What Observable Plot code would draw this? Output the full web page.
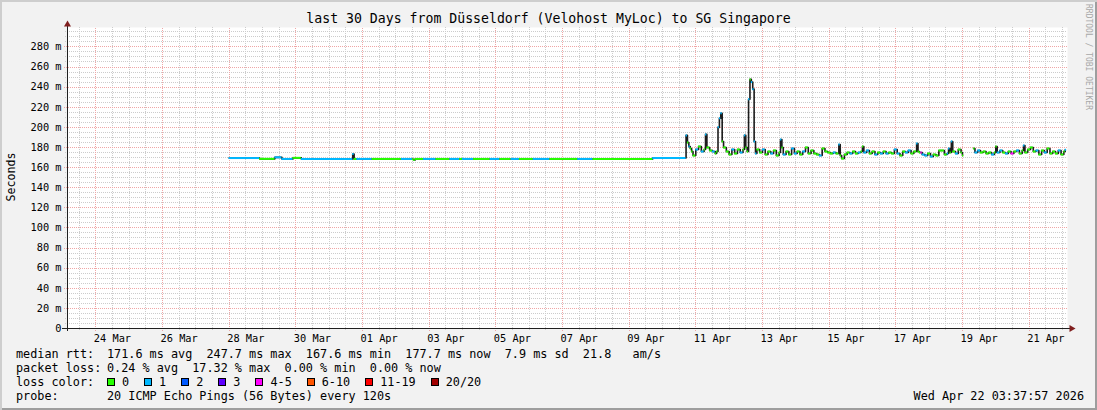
<!DOCTYPE html>
<html><head><meta charset="utf-8">
<script src="https://cdn.jsdelivr.net/npm/d3@7"></script>
<script src="https://cdn.jsdelivr.net/npm/@observablehq/plot@0.6"></script>
<style>
html,body{margin:0;padding:0;background:#fff}
#wrap{position:relative;width:1097px;height:410px;background:#f2f2f2;overflow:hidden;font-family:"DejaVu Sans Mono",monospace;color:#000;
  box-shadow: inset 2px 2px 0 #cecece, inset -2px -2px 0 #9e9e9e;}
#wrap svg{position:absolute;left:0;top:0}
.abs{position:absolute;white-space:pre}
#title{left:0;width:1097px;top:11px;height:16px;line-height:16px;text-align:center;font-size:13.2px}
#ylab{left:-39.5px;top:170px;width:100px;height:14px;line-height:14px;text-align:center;font-size:11.6px;transform:rotate(-90deg)}
#wm{left:1084px;top:4px;font-size:8px;color:#a8a8a8;writing-mode:vertical-rl;line-height:9px}
.row{position:absolute;left:16px;height:14px;line-height:14px;font-size:11.8px;white-space:pre}
.row .v{position:absolute;left:91px;top:0;white-space:pre}
.lc{position:absolute;left:91px;top:0;display:flex;align-items:center;height:14px}
.lc .it{display:flex;align-items:center;margin-right:15px}
.lc .bx{width:6px;height:6px;border:1px solid #000;margin-right:7px}
#date{position:absolute;right:13px;height:14px;line-height:14px;font-size:11.8px;white-space:pre}
</style></head>
<body><div id="wrap"></div>
<script>
// ---- chart data ----
const titleText = "last 30 Days from Düsseldorf (Velohost MyLoc) to SG Singapore";
const yTicks = [0,20,40,60,80,100,120,140,160,180,200,220,240,260,280];
const xTickLabels = ["24 Mar","26 Mar","28 Mar","30 Mar","01 Apr","03 Apr","05 Apr","07 Apr","09 Apr","11 Apr","13 Apr","15 Apr","17 Apr","19 Apr","21 Apr"];
const lossLabels = ["0","1","2","3","4-5","6-10","11-19","20/20"];
const lossColors = ["#26ff00","#00b8ff","#0059ff","#5e00ff","#ff00ff","#ff5500","#ff0000","#a10000"];
const rttStats = ["171.6 ms avg","247.7 ms max","167.6 ms min","177.7 ms now","7.9 ms sd","21.8   am/s"];
const lossStats = ["0.24 % avg","17.32 % max","0.00 % min","0.00 % now"];
const probeText = "20 ICMP Echo Pings (56 Bytes) every 120s";
const stampText = "Wed Apr 22 03:37:57 2026";

// hours since 2026-03-28 00:00 UTC
const hours = [
  0,22,33,38,46,52,89,90,92,103,
  124,132,133,134,140,149,159,166,168,176,
  188,195,203,209,219,231,251,262,305,
  329,330,331,332,333,334,336,338,340,342,
  343,344,346,348,350,351,352,353,354,355,
  356,358,360,362,364,366,368,370,371,372,
  373,374,375,376,377,378,379,380,382,384,
  386,388,390,392,394,396,397,398,399,401,
  403,405,407,409,411,413,415,417,419,421,
  423,425,427,429,431,433,435,437,439,440,
  441,443,445,447,449,451,453,455,456,457,
  459,461,463,465,467,469,471,473,475,477,
  479,481,483,485,487,489,491,493,495,496,
  497,498,499,501,503,505,507,509,511,513,
  515,517,518,519,520,521,523,525,527,528,
  529,536,537,539,541,543,545,547,549,551,
  552,553,555,557,559,561,563,565,567,569,
  571,572,573,575,577,579,581,583,585,587,
  589,591,593,595,597,599,601,602
];
const lastHour = 603;
// median rtt, ms
const medianMs = [
  169.5,168.7,170.2,168.6,169.7,168.6,173.5,168.6,168.6,168.6,
  168.6,168.3,167.6,168.6,168.6,168.6,168.6,168.6,168.6,168.6,
  168.6,168.6,168.6,168.6,168.6,168.6,168.6,168.6,169.5,
  192,185,181,179,176,172,178,181,176,178,
  193,180,177,176,174,176,200,209,214,186,
  180,176,173,178,174,178,175,178,192,180,
  176,228,247.7,245,238,186,174,178,175,178,
  173,176,174,177,172,175,188,180,173,176,
  173,179,174,176,173,176,180,174,177,174,
  173,172,179,176,175,174,175,174,183,172,
  169,173,175,174,176,174,175,176,181,175,
  177,174,176,173,175,174,176,174,175,174,
  178,174,172,176,175,177,174,176,184,176,
  175,175,173,172,174,171,173,172,177,177,
  173,174,179,175,186,176,174,178,175,172,
  null,179,175,177,175,176,174,175,173,175,
  181,175,177,175,174,176,174,176,177,174,
  177,182,175,178,180,176,177,173,177,175,
  179,174,176,174,177,173,176,177.7
];
// loss class (index into lossLabels)
const lossIdx = [
  1,0,1,1,0,1,1,0,1,0,
  1,0,0,0,1,0,1,0,1,0,
  1,0,1,0,1,0,1,0,1,
  1,0,1,0,0,0,1,0,1,0,
  1,0,0,1,0,0,1,1,1,0,
  0,0,0,1,0,0,1,0,1,0,
  0,1,0,1,1,1,1,0,0,1,
  0,0,1,0,0,0,1,0,1,0,
  0,1,1,0,0,1,0,0,0,0,
  0,1,0,0,0,0,1,0,1,0,
  0,0,0,1,0,0,1,0,0,1,
  1,0,0,1,0,1,0,1,0,0,
  1,1,0,0,1,1,0,0,1,0,
  0,4,1,1,0,1,0,0,0,0,
  0,1,1,0,1,0,1,0,0,0,
  0,0,1,1,0,0,0,0,1,0,
  0,1,1,0,1,0,4,0,1,0,
  0,1,0,0,0,0,1,0,0,1,
  0,0,0,0,1,0,0,1
];

// ---- build ----
const H = 3600e3;
const t0 = Date.UTC(2026,2,28);
const xEnd = new Date(Date.UTC(2026,3,22,3,37,57));
const xStart = new Date(+xEnd - 30*24*H);
const pxT = 30*24*H/1000; // time per pixel
const pxY = 1/1.0057;     // ms per pixel
const yTop = 301*pxY;

const data = hours.map((h,i)=>({
  t: new Date(t0 + h*H),
  t2: new Date(t0 + (i+1 < hours.length ? hours[i+1] : lastHour)*H),
  v: medianMs[i],
  c: lossColors[lossIdx[i]]
}));

const parse = d3.utcParse("%d %b %Y %H");
const majorX = xTickLabels.map(l => parse(l + " 2026 00"));
const labelX = xTickLabels.map(l => parse(l + " 2026 12"));
const majorSet = new Set(majorX.map(Number));
const minorX = d3.utcHour.every(12).range(xStart, xEnd).filter(d => !majorSet.has(+d));
const labelMap = new Map(labelX.map((d,i)=>[+d, xTickLabels[i]]));
const minorY = d3.range(5, 300, 5).filter(d => d % 20 !== 0);
const majorY = yTicks.filter(d => d > 0);

const sX = (d, px) => new Date(+d + px*pxT);
const gridGray = "#cccccc", gridRed = "#f0a6a6";
const crisp = {shapeRendering: "crispEdges", strokeDasharray: "1,1"};

const plot = Plot.plot({
  width: 1097, height: 410,
  marginLeft: 67, marginRight: 30, marginTop: 27, marginBottom: 82,
  style: {background: "transparent", fontFamily: "'DejaVu Sans Mono', monospace", fontSize: "10.3px", color: "#000", overflow: "visible"},
  x: {type: "utc", domain: [xStart, xEnd]},
  y: {domain: [0, yTop]},
  color: {type: "identity"},
  marks: [
    Plot.frame({fill: "#fff", stroke: null}),
    Plot.ruleY(minorY, {x1: sX(xStart,-2), x2: xEnd, stroke: gridGray, ...crisp}),
    Plot.ruleX(minorX, {y1: -2*pxY, y2: yTop, stroke: gridGray, ...crisp}),
    Plot.ruleY(majorY, {x1: sX(xStart,-3), x2: xEnd, stroke: gridRed, ...crisp}),
    Plot.ruleX(majorX, {y1: -3*pxY, y2: yTop, stroke: gridRed, ...crisp}),
    Plot.line(data, {x: "t", y: "v", curve: "step-after", stroke: "#1c1c1c", strokeWidth: 1.6}),
    Plot.ruleY(data.filter(d => d.v != null), {y: "v", x1: "t", x2: "t2", stroke: "c", strokeWidth: 2}),
    Plot.ruleY([0], {x1: sX(xStart,-5), x2: sX(xEnd,3), stroke: "#1f1f1f", shapeRendering: "crispEdges"}),
    Plot.ruleX([xStart], {y1: -3*pxY, y2: 303*pxY, stroke: "#1f1f1f", shapeRendering: "crispEdges"}),
    Plot.dot([{x: sX(xEnd,4), y: 0}], {x: "x", y: "y", symbol: "triangle", r: 2.6, fill: "#801f1f", stroke: null, rotate: 90}),
    Plot.dot([{x: xStart, y: 304*pxY}], {x: "x", y: "y", symbol: "triangle", r: 2.6, fill: "#801f1f", stroke: null}),
    Plot.axisY({ticks: yTicks, tickSize: 0, tickPadding: 6, label: null, tickFormat: d => d === 0 ? "0" : `${d} m`}),
    Plot.axisX({ticks: labelX, tickSize: 0, tickPadding: 6, label: null, tickFormat: d => labelMap.get(+d)})
  ]
});

const wrap = document.getElementById("wrap");
wrap.appendChild(plot);

function addDiv(id, cls, text){ const d=document.createElement("div"); if(id) d.id=id; d.className=cls; if(text!=null) d.textContent=text; wrap.appendChild(d); return d; }
addDiv("title","abs",titleText);
addDiv("ylab","abs","Seconds");
addDiv("wm","abs","RRDTOOL / TOBI OETIKER");

const rowTops = [347.3, 361.3, 375.3, 389.3];
function row(top, key){ const r = addDiv(null,"row",key); r.style.top = top+"px"; return r; }
const r1 = row(rowTops[0], "median rtt:");
const v1 = document.createElement("span"); v1.className="v"; v1.textContent = rttStats.join("  "); r1.appendChild(v1);
const r2 = row(rowTops[1], "packet loss:");
const v2 = document.createElement("span"); v2.className="v"; v2.textContent = lossStats.join("  "); r2.appendChild(v2);
const r3 = row(rowTops[2], "loss color:");
const lc = document.createElement("div"); lc.className="lc"; r3.appendChild(lc);
lossLabels.forEach((l,i)=>{
  const it=document.createElement("span"); it.className="it";
  const b=document.createElement("span"); b.className="bx"; b.style.background=lossColors[i];
  const s=document.createElement("span"); s.textContent=l;
  it.appendChild(b); it.appendChild(s); lc.appendChild(it);
});
const r4 = row(rowTops[3], "probe:");
const v4 = document.createElement("span"); v4.className="v"; v4.textContent = probeText; r4.appendChild(v4);
const dt = addDiv("date","",stampText); dt.style.top = rowTops[3]+"px";
</script>
</body></html>
